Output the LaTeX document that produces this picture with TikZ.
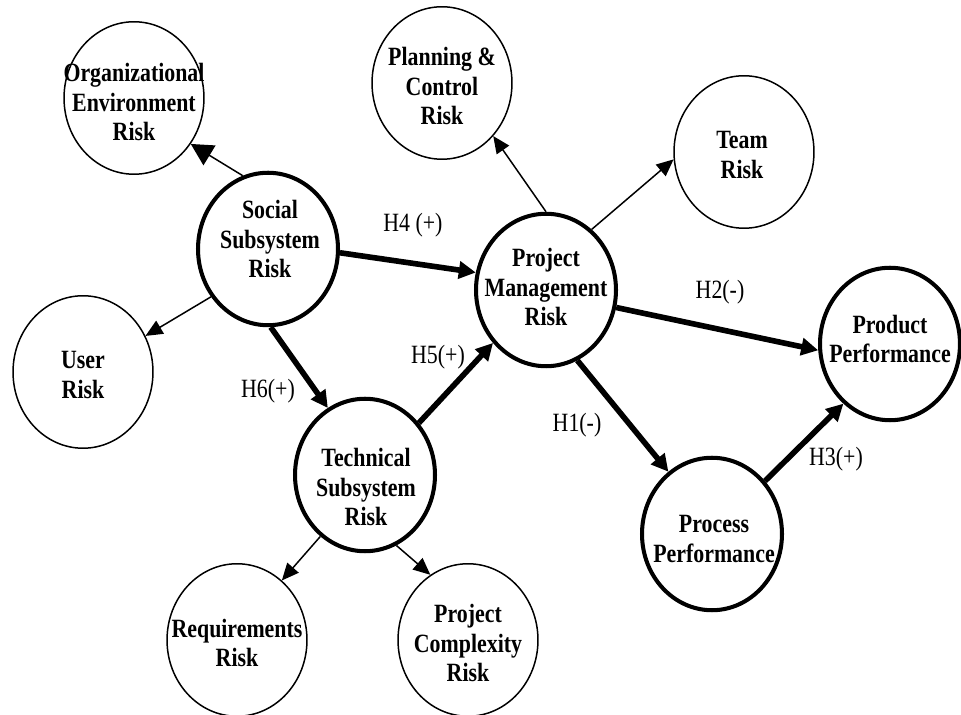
\documentclass[tikz,border=0pt]{standalone}
\usepackage{fontspec}
\setmainfont[FakeStretch=0.83]{Liberation Serif}
\usetikzlibrary{shapes.geometric,arrows.meta}

\tikzset{
  risk/.style={draw, ellipse, line width=0.85pt, minimum width=2.8cm, minimum height=3.05cm,
    inner sep=0pt},
  core/.style={risk, line width=2.3pt},
  txt/.style={inner sep=0pt, align=center, font=\fontsize{15}{17}\selectfont\bfseries},
  thinarrow/.style={line width=0.85pt, -{Triangle[length=0.34cm,width=0.3cm]}},
  thickarrow/.style={line width=3.2pt, -{Triangle[length=0.34cm,width=0.34cm]}},
  hyp/.style={inner sep=1pt, font=\fontsize{15}{17}\selectfont}
}

\begin{document}
\begin{tikzpicture}[x=0.02cm, y=-0.02cm]
		%%%%% START %%%%%
		\useasboundingbox (0, 0) rectangle (961, 715);
		
		% risk constructs
		\node[risk] (orgenv) at (134, 98) {};
		\node[risk] (plan) at (442, 83) {};
		\node[risk] (team) at (744, 152) {};
		\node[risk] (user) at (83, 372) {};
		\node[risk] (req) at (237, 640) {};
		\node[risk] (complex) at (468, 640) {};
		
		\node[txt] (orgenvtxt) at (134, 102) {Organizational\\Environment\\Risk};
		\node[txt] (plantxt) at (442, 86) {Planning \&\\Control\\Risk};
		\node[txt] (teamtxt) at (742, 155) {Team\\Risk};
		\node[txt] (usertxt) at (83, 375) {User\\Risk};
		\node[txt] (reqtxt) at (237, 643) {Requirements\\Risk};
		\node[txt] (complextxt) at (468, 643) {Project\\Complexity\\Risk};
		
		% main constructs
		\node[core] (social) at (268, 249) {};
		\node[core] (pm) at (546, 290) {};
		\node[core] (tech) at (365, 475) {};
		\node[core] (process) at (712, 534) {};
		\node[core] (product) at (890, 344) {};
		
		\node[txt] (socialtxt) at (270, 239) {Social\\Subsystem\\Risk};
		\node[txt] (pmtxt) at (546, 287) {Project\\Management\\Risk};
		\node[txt] (techtxt) at (366, 487) {Technical\\Subsystem\\Risk};
		\node[txt] (processtxt) at (714, 539) {Process\\Performance};
		\node[txt] (producttxt) at (890, 339) {Product\\Performance};
		
		% dimensions
		\draw[thinarrow, -{Triangle[length=0.44cm,width=0.46cm]}] (social.109) -- (orgenv.-39);
		\draw[thinarrow] (social.220) -- (user.30);
		\draw[thinarrow] (pm.north) -- (plan.-46);
		\draw[thinarrow] (pm.53) -- (team.186);
		\draw[thinarrow] (tech.234) -- (req.53);
		\draw[thinarrow] (tech.-66) -- (complex.120);
		
		% hypotheses
		\draw[thickarrow] (social.-3) -- (pm.166);
		\draw[thickarrow] (social.-88) -- (tech.119);
		\draw[thickarrow] (tech.44) -- (pm.225);
		\draw[thickarrow] (pm.-14) -- (product.185);
		\draw[thickarrow] (pm.-66) -- (process.125);
		\draw[thickarrow] (process.45) -- (product.232);
		
		\node[hyp] (h4) at (413, 225) {H4 (+)};
		\node[hyp] (h5) at (438, 357) {H5(+)};
		\node[hyp] (h6) at (268, 391) {H6(+)};
		\node[hyp] (h2) at (720, 292) {H2(-)};
		\node[hyp] (h1) at (577, 425) {H1(-)};
		\node[hyp] (h3) at (836, 459) {H3(+)};
		
		%%%%% END %%%%%
\end{tikzpicture}
\end{document}
